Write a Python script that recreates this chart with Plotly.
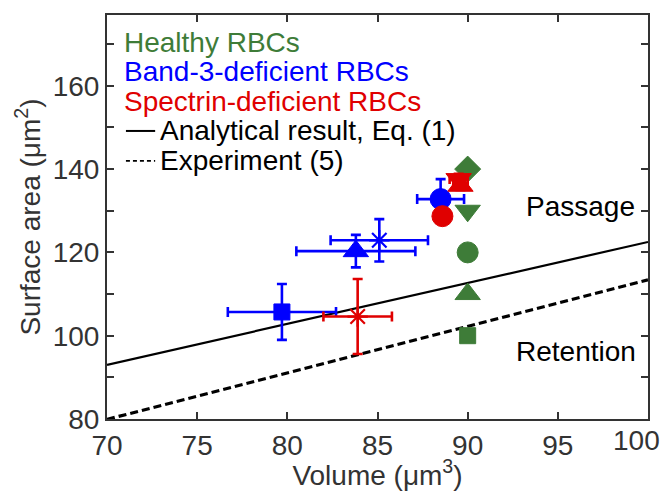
import plotly.graph_objects as go

# ---------------- data ----------------
healthy_vol = [90, 90, 90, 90, 90]
healthy_sa = [140, 130, 120, 110, 100]
healthy_sym = ["diamond", "triangle-down", "circle", "triangle-up", "square"]

band3_vol = [79.7, 83.8, 85.1, 88.5]
band3_sa = [105.7, 120.3, 122.9, 132.8]
band3_vol_err = [3.0, 3.3, 2.7, 1.3]
band3_sa_err = [6.7, 3.9, 5.1, 4.8]
band3_sym = ["square", "triangle-up", "asterisk-open", "circle"]

spec_vol = [83.9, 88.6, 89.5, 89.6]
spec_sa = [104.6, 128.7, 137.6, 136.0]
spec_vol_err = [1.9, 0.0, 0.5, 0.4]
spec_sa_err = [9.0, 0.0, 1.3, 1.0]
spec_sym = ["asterisk-open", "circle", "triangle-down", "triangle-up"]

analytic_vol = [70, 100]
analytic_sa = [93.0, 122.5]
exp_vol = [70, 100]
exp_sa = [79.9, 113.4]

x_ticks = [70, 75, 80, 85, 90, 95, 100]
x_ticklabels = ["70", "75", "80", "85", "90", "95", ""]
x_last_label = "100"
y_ticks = [80, 90, 100, 110, 120, 130, 140, 150, 160, 170]
y_ticklabels = ["80", "", "100", "", "120", "", "140", "", "160", ""]

GREEN = "#3e7c38"
BLUE = "#0000ff"
RED = "#e00000"
AX = "#333333"
FONT = "Liberation Sans, Arial, sans-serif"

sizes = {"diamond": 20, "triangle-down": 22, "triangle-up": 22, "circle": 21,
         "square": 16, "asterisk-open": 17}

fig = go.Figure()

# model lines
fig.add_trace(go.Scatter(x=analytic_vol, y=analytic_sa, mode="lines",
                         line=dict(color="black", width=2.2), showlegend=False))
fig.add_trace(go.Scatter(x=exp_vol, y=exp_sa, mode="lines",
                         line=dict(color="black", width=3.2, dash="8px,4px"),
                         showlegend=False))

# healthy
fig.add_trace(go.Scatter(
    x=healthy_vol, y=healthy_sa, mode="markers", showlegend=False,
    marker=dict(symbol=healthy_sym, color=GREEN, opacity=1,
                size=[sizes[s] for s in healthy_sym],
                line=dict(color=GREEN, width=1))))

def add_group(vols, sas, verr, serr, syms, color):
    for v, s, ve, se, sym in zip(vols, sas, verr, serr, syms):
        fig.add_trace(go.Scatter(
            x=[v], y=[s], mode="markers", showlegend=False,
            error_x=dict(type="data", array=[ve], visible=ve > 0,
                         color=color, thickness=2.6, width=5),
            error_y=dict(type="data", array=[se], visible=se > 0,
                         color=color, thickness=2.6, width=5),
            marker=dict(symbol=sym, color=color, size=sizes[sym], opacity=1,
                        line=dict(color=color, width=2.2 if "open" in sym else 1))))

add_group(band3_vol, band3_sa, band3_vol_err, band3_sa_err, band3_sym, BLUE)
add_group(spec_vol, spec_sa, spec_vol_err, spec_sa_err, spec_sym, RED)

# legend as text
fs = 28
legend_items = [
    ("Healthy RBCs", GREEN, 0.931),
    ("Band-3-deficient RBCs", BLUE, 0.859),
    ("Spectrin-deficient RBCs", RED, 0.785),
]
for txt, col, yy in legend_items:
    fig.add_annotation(x=0.027, y=yy, xref="paper", yref="paper", text=txt,
                       showarrow=False, xanchor="left", yanchor="middle",
                       font=dict(size=fs, color=col, family=FONT))
fig.add_annotation(x=0.094, y=0.713, xref="paper", yref="paper",
                   text="Analytical result, Eq. (1)", showarrow=False,
                   xanchor="left", yanchor="middle",
                   font=dict(size=fs, color="black", family=FONT))
fig.add_annotation(x=0.094, y=0.639, xref="paper", yref="paper",
                   text="Experiment (5)", showarrow=False,
                   xanchor="left", yanchor="middle",
                   font=dict(size=fs, color="black", family=FONT))
fig.add_shape(type="line", xref="paper", yref="paper", x0=0.035, x1=0.089,
              y0=0.713, y1=0.713, line=dict(color="black", width=2))
fig.add_shape(type="line", xref="paper", yref="paper", x0=0.035, x1=0.089,
              y0=0.639, y1=0.639, line=dict(color="black", width=1.6, dash="4px,3px"))

fig.add_annotation(x=0.98, y=0.525, xref="paper", yref="paper", text="Passage",
                   showarrow=False, xanchor="right", yanchor="middle",
                   font=dict(size=fs, color="black", family=FONT))
fig.add_annotation(x=0.982, y=0.166, xref="paper", yref="paper", text="Retention",
                   showarrow=False, xanchor="right", yanchor="middle",
                   font=dict(size=fs, color="black", family=FONT))

# last x tick label, nudged left so it stays inside the figure
fig.add_annotation(x=1.026, y=-0.053, xref="paper", yref="paper", text=x_last_label,
                   showarrow=False, xanchor="right", yanchor="middle",
                   font=dict(size=fs, color=AX, family=FONT))

axis_common = dict(showgrid=False, zeroline=False, showline=True, linecolor=AX,
                   linewidth=2, mirror="ticks", ticks="inside", ticklen=7,
                   tickwidth=2, tickcolor=AX, automargin=False,
                   tickfont=dict(size=fs, color=AX, family=FONT))

fig.update_xaxes(range=[70, 100], tickmode="array", tickvals=x_ticks,
                 ticktext=x_ticklabels,
                 title=dict(text="Volume (μm<sup>3</sup>)", standoff=4,
                            font=dict(size=fs, color=AX, family=FONT)),
                 **axis_common)
fig.update_yaxes(range=[80, 177], tickmode="array", tickvals=y_ticks,
                 ticktext=y_ticklabels,
                 title=dict(text="Surface area (μm<sup>2</sup>)", standoff=4,
                            font=dict(size=fs, color=AX, family=FONT)),
                 **axis_common)

fig.update_layout(width=663, height=491, margin=dict(l=107, r=15, t=15, b=72),
                  plot_bgcolor="white", paper_bgcolor="white",
                  font=dict(family=FONT), showlegend=False)

fig.write_html("out.html", config={"displayModeBar": False},
               post_script="document.body.style.margin='0px';document.body.style.overflow='hidden';")
